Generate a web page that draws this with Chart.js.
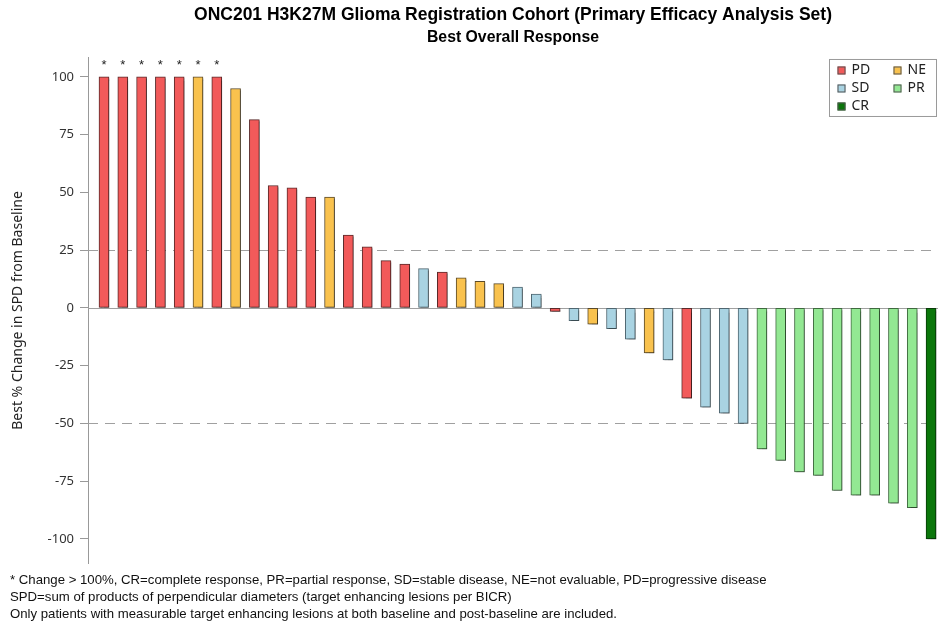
<!DOCTYPE html>
<html>
<head>
<meta charset="utf-8">
<script src="https://cdn.jsdelivr.net/npm/chart.js@4/dist/chart.umd.min.js"></script>
<style>
  html, body { margin: 0; padding: 0; background: #ffffff; }
  #wrap { position: relative; width: 938px; height: 626px; }
  canvas { display: block; }
</style>
</head>
<body>
<div id="wrap"><canvas id="c" width="938" height="626"></canvas></div>
<script>
// ---------------- data ----------------
const titleText = 'ONC201 H3K27M Glioma Registration Cohort (Primary Efficacy Analysis Set)';
const subtitleText = 'Best Overall Response';
const yAxisTitle = 'Best % Change in SPD from Baseline';

const patients = [1,2,3,4,5,6,7,8,9,10,11,12,13,14,15,16,17,18,19,20,21,22,23,24,25,26,27,28,29,30,31,32,33,34,35,36,37,38,39,40,41,42,43,44,45];

const bestChange = [100,100,100,100,100,100,100,95,81.5,53,52,48,48,31.5,26.5,20.5,19,17,15.5,13,11.5,10.5,9,6,
  -1.5,-5.5,-7,-9,-13.5,-19.5,-22.5,-39,-43,-45.5,-50,-61,-66,-71,-72.5,-79,-81,-81,-84.5,-86.5,-100];

const response = ['PD','PD','PD','PD','PD','NE','PD','NE','PD','PD','PD','PD','NE','PD','PD','PD','PD','SD','PD','NE',
  'NE','NE','SD','SD','PD','SD','NE','SD','SD','NE','SD','PD','SD','SD','SD','PR','PR','PR','PR','PR','PR','PR','PR','PR','CR'];

const over100 = [true,true,true,true,true,true,true,false,false,false,false,false,false,false,false,false,false,false,false,false,
  false,false,false,false,false,false,false,false,false,false,false,false,false,false,false,false,false,false,false,false,false,false,false,false,false];

const yTickValues = [100,75,50,25,0,-25,-50,-75,-100];
const refLines = [25,-50];
const legendOrder = ['PD','NE','SD','PR','CR'];

const footnotes = [
  '* Change > 100%, CR=complete response, PR=partial response, SD=stable disease, NE=not evaluable, PD=progressive disease',
  'SPD=sum of products of perpendicular diameters (target enhancing lesions per BICR)',
  'Only patients with measurable target enhancing lesions at both baseline and post-baseline are included.'
];

// ---------------- styles ----------------
const fillColors = { PD: '#f25a5a', NE: '#f9c24e', SD: '#a9d3e2', PR: '#93e893', CR: '#0b760b' };
const edgeColors = { PD: '#5a2a2a', NE: '#5a4a2a', SD: '#4f6670', PR: '#3f6a3f', CR: '#083a08' };

// ---------------- plugins ----------------
const refLinePlugin = {
  id: 'refLines',
  beforeDatasetsDraw(chart) {
    const { ctx, chartArea, scales } = chart;
    ctx.save();
    ctx.lineWidth = 1;
    ctx.strokeStyle = '#a0a0a0';
    const y0 = Math.round(scales.y.getPixelForValue(0)) + 0.5;
    ctx.beginPath(); ctx.moveTo(chartArea.left, y0); ctx.lineTo(chartArea.right, y0); ctx.stroke();
    ctx.setLineDash([10, 7]);
    refLines.forEach(v => {
      const y = Math.round(scales.y.getPixelForValue(v)) + 0.5;
      ctx.beginPath(); ctx.moveTo(chartArea.left, y); ctx.lineTo(chartArea.right, y); ctx.stroke();
    });
    ctx.restore();
  }
};

const shadowPlugin = {
  id: 'barShadow',
  beforeDatasetDraw(chart) {
    const ctx = chart.ctx;
    ctx.save();
    ctx.shadowColor = 'rgba(0,0,0,0.28)';
    ctx.shadowOffsetX = 1.5;
    ctx.shadowOffsetY = 1.5;
    ctx.shadowBlur = 1;
  },
  afterDatasetDraw(chart) {
    chart.ctx.restore();
  }
};

const starPlugin = {
  id: 'stars',
  afterDatasetsDraw(chart) {
    const { ctx, scales } = chart;
    const meta = chart.getDatasetMeta(0);
    ctx.save();
    ctx.fillStyle = '#222';
    ctx.font = '13px "Liberation Sans", Arial, sans-serif';
    ctx.textAlign = 'center';
    ctx.textBaseline = 'middle';
    over100.forEach((flag, i) => {
      if (!flag) return;
      const el = meta.data[i];
      ctx.fillText('*', el.x, scales.y.getPixelForValue(bestChange[i]) - 12);
    });
    ctx.restore();
  }
};

const legendPlugin = {
  id: 'respLegend',
  afterDraw(chart) {
    const { ctx, chartArea } = chart;
    const boxW = 107, boxH = 57;
    const bx = chartArea.right - boxW - 1.5, by = chartArea.top + 1.5;
    ctx.save();
    ctx.fillStyle = '#ffffff';
    ctx.fillRect(bx, by, boxW, boxH);
    ctx.strokeStyle = '#9a9a9a';
    ctx.lineWidth = 1;
    ctx.strokeRect(bx, by, boxW, boxH);
    ctx.font = '14px "Noto Sans", sans-serif';
    ctx.textBaseline = 'middle';
    ctx.textAlign = 'left';
    legendOrder.forEach((k, i) => {
      const col = i % 2, row = Math.floor(i / 2);
      const sx = bx + 8 + col * 56;
      const sy = by + 11 + row * 18;
      ctx.fillStyle = fillColors[k];
      ctx.fillRect(sx, sy - 4, 8, 8);
      ctx.strokeStyle = '#555';
      ctx.strokeRect(sx + 0.5, sy - 3.5, 7, 7);
      ctx.fillStyle = '#222';
      ctx.fillText(k, sx + 14, sy);
    });
    ctx.restore();
  }
};

const footnotePlugin = {
  id: 'footnotes',
  afterDraw(chart) {
    const { ctx } = chart;
    ctx.save();
    ctx.fillStyle = '#111';
    ctx.font = '13.2px "Liberation Sans", Arial, sans-serif';
    ctx.textAlign = 'left';
    ctx.textBaseline = 'middle';
    footnotes.forEach((t, i) => {
      ctx.fillText(t, 10, chart.height - 46 + i * 17);
    });
    ctx.restore();
  }
};

// ---------------- chart ----------------
const points = patients.map((p, i) => ({ x: p, y: bestChange[i] }));

new Chart(document.getElementById('c'), {
  type: 'bar',
  data: {
    datasets: [{
      label: 'Best % Change',
      data: points,
      backgroundColor: response.map(r => fillColors[r]),
      borderColor: response.map(r => edgeColors[r]),
      borderWidth: 1,
      borderSkipped: false,
      barThickness: 10
    }]
  },
  options: {
    responsive: false,
    animation: false,
    devicePixelRatio: 1,
    layout: { padding: { top: 0, bottom: 63, left: 0, right: 0 } },
    plugins: {
      legend: { display: false },
      tooltip: { enabled: false },
      title: {
        display: true,
        text: titleText,
        fullSize: false,
        color: '#000',
        font: { family: '"Liberation Sans", Arial, sans-serif', size: 17.5, weight: 'bold', lineHeight: 1.2 },
        padding: { top: 5, bottom: 3 }
      },
      subtitle: {
        display: true,
        text: subtitleText,
        fullSize: false,
        color: '#000',
        font: { family: '"Liberation Sans", Arial, sans-serif', size: 15.8, weight: 'bold', lineHeight: 1.1 },
        padding: { top: 0, bottom: 11.6 }
      }
    },
    scales: {
      x: {
        type: 'linear',
        display: false,
        min: 0.149,
        max: 45.37,
        offset: false
      },
      y: {
        type: 'linear',
        min: -110.4,
        max: 108.2,
        afterBuildTicks(axis) { axis.ticks = yTickValues.map(v => ({ value: v })); },
        afterFit(axis) { axis.width = 88; },
        ticks: {
          color: '#333',
          font: { family: '"Noto Sans", sans-serif', size: 13 },
          padding: 6,
          callback: v => String(v)
        },
        grid: {
          drawOnChartArea: false,
          drawTicks: true,
          tickLength: 8,
          tickColor: '#999',
          tickWidth: 1
        },
        border: { display: true, color: '#999', width: 1 },
        title: {
          display: true,
          text: yAxisTitle,
          color: '#222',
          font: { family: '"Noto Sans", sans-serif', size: 14 },
          padding: { top: 10, bottom: 0 }
        }
      }
    }
  },
  plugins: [refLinePlugin, shadowPlugin, starPlugin, legendPlugin, footnotePlugin]
});
</script>
</body>
</html>
